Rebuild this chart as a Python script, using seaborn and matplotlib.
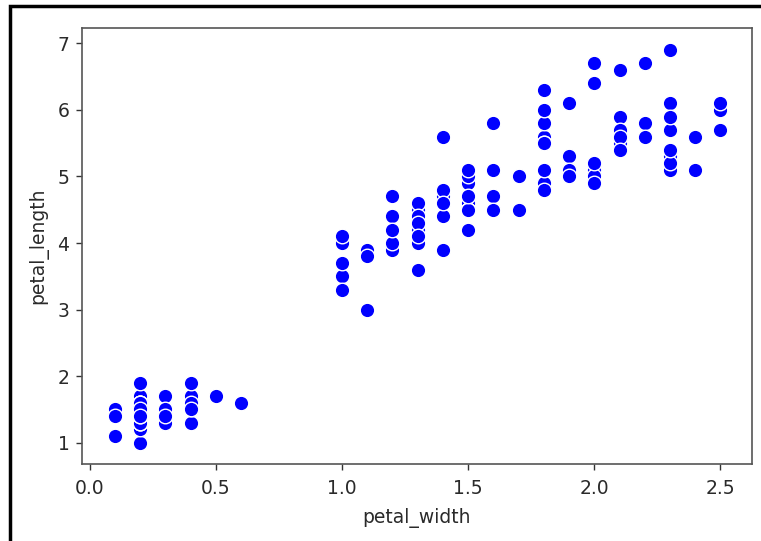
import matplotlib
matplotlib.use("Agg")
import matplotlib.pyplot as plt
import seaborn as sns
import pandas as pd
from matplotlib.patches import Rectangle

petal_width = [
    0.2,0.2,0.2,0.2,0.2,0.4,0.3,0.2,0.2,0.1,0.2,0.2,0.1,0.1,0.2,0.4,0.4,0.3,0.3,0.3,
    0.2,0.4,0.2,0.5,0.2,0.2,0.4,0.2,0.2,0.2,0.2,0.4,0.1,0.2,0.2,0.2,0.2,0.1,0.2,0.2,
    0.3,0.3,0.2,0.6,0.4,0.3,0.2,0.2,0.2,0.2,
    1.4,1.5,1.5,1.3,1.5,1.3,1.6,1.0,1.3,1.4,1.0,1.5,1.0,1.4,1.3,1.4,1.5,1.0,1.5,1.1,
    1.8,1.3,1.5,1.2,1.3,1.4,1.4,1.7,1.5,1.0,1.1,1.0,1.2,1.6,1.5,1.6,1.5,1.3,1.3,1.3,
    1.2,1.4,1.2,1.0,1.3,1.2,1.3,1.3,1.1,1.3,
    2.5,1.9,2.1,1.8,2.2,2.1,1.7,1.8,1.8,2.5,2.0,1.9,2.1,2.0,2.4,2.3,1.8,2.2,2.3,1.5,
    2.3,2.0,2.0,1.8,2.1,1.8,1.8,1.8,2.1,1.6,1.9,2.0,2.2,1.5,1.4,2.3,2.4,1.8,1.8,2.1,
    2.4,2.3,1.9,2.3,2.5,2.3,1.9,2.0,2.3,1.8,
]
petal_length = [
    1.4,1.4,1.3,1.5,1.4,1.7,1.4,1.5,1.4,1.5,1.5,1.6,1.4,1.1,1.2,1.5,1.3,1.4,1.7,1.5,
    1.7,1.5,1.0,1.7,1.9,1.6,1.6,1.5,1.4,1.6,1.6,1.5,1.5,1.4,1.5,1.2,1.3,1.4,1.3,1.5,
    1.3,1.3,1.3,1.6,1.9,1.4,1.6,1.4,1.5,1.4,
    4.7,4.5,4.9,4.0,4.6,4.5,4.7,3.3,4.6,3.9,3.5,4.2,4.0,4.7,3.6,4.4,4.5,4.1,4.5,3.9,
    4.8,4.0,4.9,4.7,4.3,4.4,4.8,5.0,4.5,3.5,3.8,3.7,3.9,5.1,4.5,4.5,4.7,4.4,4.1,4.0,
    4.4,4.6,4.0,3.3,4.2,4.2,4.2,4.3,3.0,4.1,
    6.0,5.1,5.9,5.6,5.8,6.6,4.5,6.3,5.8,6.1,5.1,5.3,5.5,5.0,5.1,5.3,5.5,6.7,6.9,5.0,
    5.7,4.9,6.7,4.9,5.7,6.0,4.8,4.9,5.6,5.8,6.1,6.4,5.6,5.1,5.6,6.1,5.6,5.5,4.8,5.4,
    5.6,5.1,5.1,5.9,5.7,5.2,5.0,5.2,5.4,5.1,
]
x_ticks = [0.0, 0.5, 1.0, 1.5, 2.0, 2.5]

df = pd.DataFrame({"petal_width": petal_width, "petal_length": petal_length})

fig = plt.figure(figsize=(7.61, 5.41), dpi=100)
ax = fig.add_axes([82/761, 1 - 464/541, (752-82)/761, (464-28)/541])
sns.scatterplot(data=df, x="petal_width", y="petal_length", ax=ax,
                color="blue", s=110, edgecolor="white", linewidth=1)

ax.set_xlim(-0.03, 2.625)
ax.set_ylim(0.68, 7.23)
ax.set_xticks(x_ticks)
ax.tick_params(labelsize=13.5, colors="#333333", length=4, width=1, labelcolor="#2a2a2a")
ax.tick_params(axis="x", pad=7)
ax.tick_params(axis="y", pad=5)
ax.set_xlabel("petal_width", fontsize=13.5, color="#2a2a2a", labelpad=7)
ax.set_ylabel("petal_length", fontsize=13.5, color="#2a2a2a", labelpad=7)
for sp in ax.spines.values():
    sp.set_color("#555555")
    sp.set_linewidth(1.2)

# screenshot frame
fig.patches.append(Rectangle((10/761, -0.1), 1.2, 1.1 - 6/541, transform=fig.transFigure,
                             fill=False, edgecolor="black", linewidth=2.5))

fig.savefig("out.png", dpi=100)
